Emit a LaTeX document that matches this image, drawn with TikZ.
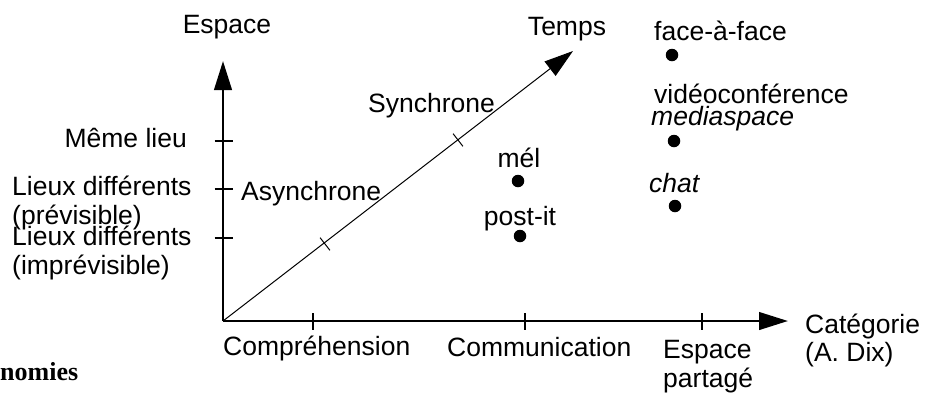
\documentclass[tikz,border=0pt]{standalone}
\usepackage{fontspec}
\setmainfont{Liberation Sans}
\newfontfamily\serifbold{Liberation Serif}
\usetikzlibrary{arrows.meta}
\begin{document}
\begin{tikzpicture}[x=1pt,y=-1pt,
  lbl/.style={inner sep=0pt,font=\fontsize{26.5}{29}\selectfont},
  ilbl/.style={lbl,font=\fontsize{26.5}{29}\selectfont\itshape},
  axis/.style={line width=2.7pt,-{Triangle[length=29pt,width=17.5pt]}},
  diag/.style={line width=1pt,-{Triangle[length=29pt,width=18pt]}},
  axtick/.style={line width=2.5pt},
  dtick/.style={line width=1pt},
  dot/.style={circle,fill=black,inner sep=0pt,minimum size=12.5pt}]
\useasboundingbox (0,0) rectangle (933,392);
% axes
\coordinate (O) at (223,321);
\coordinate (Ytip) at (223,61);
\coordinate (Xtip) at (788,321);
\coordinate (Ttip) at (573,51);
\draw[axis] (O) -- (Ytip);
\draw[axis] (O) -- (Xtip);
\draw[diag] (O) -- (Ttip);
% vertical ticks
\draw[axtick] (214.5,141) -- (232.5,141);
\draw[axtick] (214.5,189) -- (232.5,189);
\draw[axtick] (214.5,238) -- (232.5,238);
% horizontal ticks
\draw[axtick] (313,313) -- (313,330);
\draw[axtick] (525,313) -- (525,330);
\draw[axtick] (702,313) -- (702,330);
% diagonal ticks
\draw[dtick] (453.1,133.7) -- (462.9,146.3);
\draw[dtick] (320.1,237.7) -- (329.9,250.3);
% axis labels
\node[lbl,anchor=base] (espace) at (227,33) {Espace};
\node[lbl,anchor=base] (temps) at (567,35) {Temps};
\node[lbl,anchor=base west] (cat) at (805,333) {Catégorie};
\node[lbl,anchor=base west] (dix) at (805,361) {(A. Dix)};
% space labels
\node[lbl,anchor=base east] (meme) at (187,147) {Même lieu};
\node[lbl,anchor=base west] (ld1) at (12,195) {Lieux différents};
\node[lbl,anchor=base west] (prev) at (12,224) {(prévisible)};
\node[lbl,anchor=base west] (ld2) at (12,245) {Lieux différents};
\node[lbl,anchor=base west] (imprev) at (12,274) {(imprévisible)};
% time labels
\node[lbl,anchor=base west] (sync) at (368,112) {Synchrone};
\node[lbl,anchor=base west] (async) at (241,200) {Asynchrone};
% category labels
\node[lbl,anchor=base west] (compr) at (223,355) {Compréhension};
\node[lbl,anchor=base west] (comm) at (447,356) {Communication};
\node[lbl,anchor=base west] (esp) at (663,358) {Espace};
\node[lbl,anchor=base west] (part) at (663,387) {partagé};
% points
\node[lbl,anchor=base] (mel) at (519,167) {mél};
\node[dot] (meld) at (518,181) {};
\node[lbl,anchor=base] (post) at (520,225) {post-it};
\node[dot] (postd) at (520,236) {};
\node[lbl,anchor=base west] (face) at (654,40) {face-à-face};
\node[dot] (faced) at (672,55) {};
\node[lbl,anchor=base west] (video) at (654,103) {vidéoconférence};
\node[ilbl,anchor=base west] (media) at (651,125) {mediaspace};
\node[dot] (mediad) at (674,141) {};
\node[ilbl,anchor=base west] (chat) at (649,192) {chat};
\node[dot] (chatd) at (675,206) {};
% caption fragment
\node[inner sep=0pt,anchor=base west,font=\serifbold\bfseries\fontsize{26}{29}\selectfont] (cap) at (0,380) {nomies};
\end{tikzpicture}
\end{document}
